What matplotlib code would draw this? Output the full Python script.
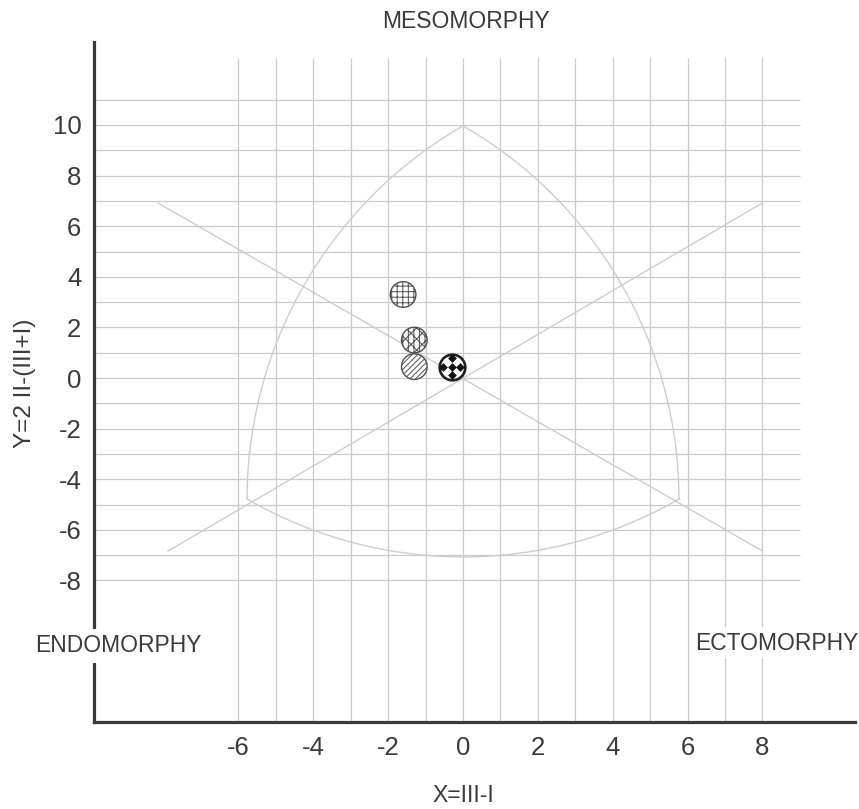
import numpy as np
import matplotlib
matplotlib.use("Agg")
import matplotlib.pyplot as plt
from matplotlib.transforms import ScaledTranslation

plt.rcParams['font.family'] = ['Liberation Sans', 'DejaVu Sans']
plt.rcParams['hatch.linewidth'] = 0.7

# ---- data ----
x_vals = [-1.6, -1.3, -1.3, -0.3]
y_vals = [3.3, 1.5, 0.45, 0.45]
hatches = ['+++', 'xxx|||', '//////', '']
x_ticks = [-6, -4, -2, 0, 2, 4, 6, 8]
y_ticks = [10, 8, 6, 4, 2, 0, -2, -4, -6, -8]
vertex_x = [0.0, -5.75, 5.75]
vertex_y = [10.0, -4.8, -4.8]
diag1_x = [-8.15, 8.0]
diag1_y = [6.92, -6.84]
diag2_x = [-7.88, 8.0]
diag2_y = [-6.84, 6.92]

# ---- layout ----
W, H = 859, 809
fig = plt.figure(figsize=(W / 100, H / 100), dpi=100)
ax_l, ax_r, ax_t, ax_b = 94, 855, 42, 722
ax = fig.add_axes([ax_l / W, (H - ax_b) / H, (ax_r - ax_l) / W, (ax_b - ax_t) / H])
sx, sy = 37.43, 25.3
x0px, y0px = 463, 378
xlim = ((ax_l - x0px) / sx, (ax_r - x0px) / sx)
ylim = ((y0px - ax_b) / sy, (y0px - ax_t) / sy)
ax.set_xlim(*xlim)
ax.set_ylim(*ylim)

grid_c = '#c9c9c9'
ax.vlines(np.arange(-6, 9), ylim[0], 12.65, color=grid_c, lw=0.9, zorder=1)
ax.hlines(np.arange(-8, 12), xlim[0], 9.0, color=grid_c, lw=0.9, zorder=1)

line_c = '#cdcdcd'
ax.plot(diag1_x, diag1_y, color=line_c, lw=1.0, zorder=1.5)
ax.plot(diag2_x, diag2_y, color=line_c, lw=1.0, zorder=1.5)

# Reuleaux-like outline (arcs centered on opposite vertex, in screen-scaled space)
V = np.column_stack([np.array(vertex_x) * sx, np.array(vertex_y) * sy])
for i in range(3):
    a, b = V[(i + 1) % 3], V[(i + 2) % 3]
    c = V[i]
    r = (np.linalg.norm(a - c) + np.linalg.norm(b - c)) / 2
    ta = np.arctan2(*(a - c)[::-1])
    tb = np.arctan2(*(b - c)[::-1])
    d = (tb - ta + np.pi) % (2 * np.pi) - np.pi
    t = ta + np.linspace(0, d, 200)
    ax.plot((c[0] + r * np.cos(t)) / sx, (c[1] + r * np.sin(t)) / sy,
            color=line_c, lw=1.0, zorder=1.5)

# markers
for i in range(4):
    lw = 1.9 if i == 3 else 1.0
    ec = '#202020' if i == 3 else '#505050'
    ax.scatter([x_vals[i]], [y_vals[i]], s=340, facecolor='white',
               edgecolor=ec, hatch=hatches[i] if hatches[i] else None,
               linewidths=lw, zorder=4)
# black diamond pattern for the last marker
for dx, dy in [(0, 0), (6, 0), (-6, 0), (0, 6), (0, -6)]:
    tr = ax.transData + ScaledTranslation(dx / 72, dy / 72, fig.dpi_scale_trans)
    ax.scatter([x_vals[3]], [y_vals[3]], s=20, marker='D', color='#111111',
               transform=tr, zorder=5, linewidths=0)

# axes styling
for s in ['top', 'right']:
    ax.spines[s].set_visible(False)
for s in ['left', 'bottom']:
    ax.spines[s].set_color('#3a3a3a')
    ax.spines[s].set_linewidth(2.3)
ax.set_xticks(x_ticks)
ax.set_yticks(y_ticks)
ax.set_xticklabels([str(v) for v in x_ticks])
ax.set_yticklabels([str(v) for v in y_ticks])
ax.tick_params(axis='both', length=0, labelsize=18.5, labelcolor='#3a3a3a')
ax.tick_params(axis='x', pad=10)
ax.tick_params(axis='y', pad=9)
ax.patch.set_visible(False)

tc = '#3a3a3a'
fs = 16.5
fig.text(466 / W, 1 - 21 / H, 'MESOMORPHY', ha='center', va='center', fontsize=fs, color=tc)
fig.text(118 / W, 1 - 646 / H, 'ENDOMORPHY', ha='center', va='center', fontsize=fs, color=tc,
         zorder=10, bbox=dict(facecolor='white', edgecolor='none', boxstyle='square,pad=0.25'))
fig.text(777 / W, 1 - 643 / H, 'ECTOMORPHY', ha='center', va='center', fontsize=fs, color=tc,
         zorder=10, bbox=dict(facecolor='white', edgecolor='none', boxstyle='square,pad=0.2'))
fig.text(463 / W, 1 - 795 / H, 'X=III-I', ha='center', va='center', fontsize=fs, color=tc)
fig.text(25 / W, 1 - 383 / H, 'Y=2 II-(III+I)', ha='center', va='center', rotation=90,
         fontsize=17.5, color=tc)

fig.savefig('out.png', dpi=100, facecolor='white')
